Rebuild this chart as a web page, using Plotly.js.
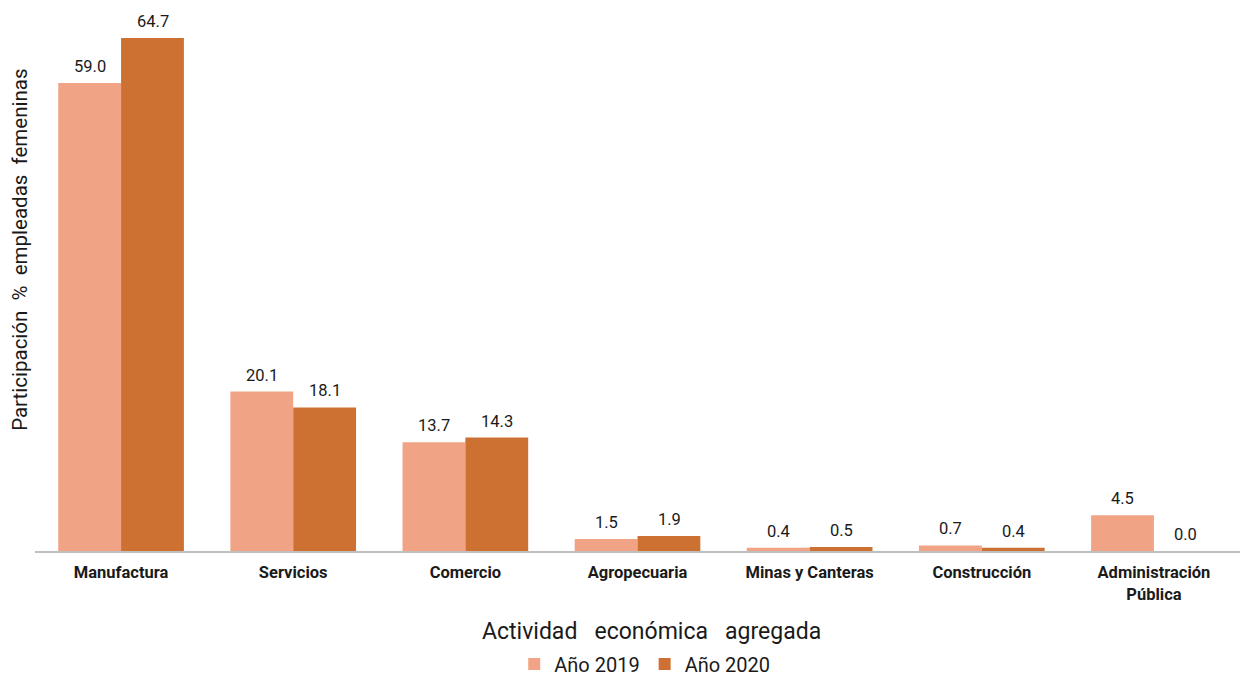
<!DOCTYPE html>
<html>
<head>
<meta charset="utf-8">
<script src="https://cdn.plot.ly/plotly-3.0.1.min.js"></script>
<style>html,body{margin:0;padding:0;background:#fff;}#chart{width:1241px;height:679px;}</style>
</head>
<body>
<div id="chart"></div>
<script>
const categories = ["Manufactura", "Servicios", "Comercio", "Agropecuaria", "Minas y Canteras", "Construcción", "Administración<br>Pública"];
const values2019 = [59.0, 20.1, 13.7, 1.5, 0.4, 0.7, 4.5];
const values2020 = [64.7, 18.1, 14.3, 1.9, 0.5, 0.4, 0.0];
const seriesNames = ["Año 2019", "Año 2020"];
const xTitle = "Actividad\u00a0\u00a0 económica\u00a0\u00a0 agregada";
const yTitle = "Participación\u00a0 %\u00a0 empleadas\u00a0 femeninas";

const FONT = "Roboto, 'Liberation Sans', Arial, sans-serif";
const TXT = "#1a1a1a";

const traces = [
  {type: "bar", name: seriesNames[0], x: categories, y: values2019, marker: {color: "#F1A386"}, hoverinfo: "skip"},
  {type: "bar", name: seriesNames[1], x: categories, y: values2020, marker: {color: "#CD7133"}, hoverinfo: "skip"}
];

// value labels as annotations anchored to each bar (data coordinates)
const valueAnnotations = [];
[values2019, values2020].forEach((vals, si) => {
  vals.forEach((v, i) => {
    valueAnnotations.push({
      x: categories[i], y: v, xref: "x", yref: "y",
      xshift: si === 0 ? -31.5 : 31.5, yshift: 5,
      text: v.toFixed(1), showarrow: false,
      xanchor: "center", yanchor: "bottom",
      font: {family: FONT, size: 16.5, color: TXT}
    });
  });
});

const layout = {
  width: 1241, height: 679,
  margin: {l: 35, r: 1, t: 20, b: 128},
  paper_bgcolor: "#fff", plot_bgcolor: "#fff",
  font: {family: FONT, color: TXT},
  barmode: "group", bargap: 0.27, bargroupgap: 0,
  showlegend: true,
  legend: {orientation: "h", x: 0.506, xanchor: "center", xref: "paper",
           yref: "container", y: 0.022, yanchor: "middle",
           font: {family: FONT, size: 20, color: TXT}, traceorder: "normal",
           itemwidth: 30, bgcolor: "rgba(0,0,0,0)"},
  xaxis: {
    showline: true, linecolor: "#bfbfbf", linewidth: 1.5,
    ticks: "", showgrid: false, zeroline: false,
    ticklabelstandoff: 6,
    tickfont: {family: FONT, size: 16.5, color: TXT, weight: "bold"},
    automargin: false
  },
  yaxis: {
    range: [0, 66.96], showticklabels: false, showgrid: false, zeroline: false,
    showline: false, ticks: "", fixedrange: true, automargin: false
  },
  annotations: valueAnnotations.concat([
    {
      text: yTitle,
      xref: "paper", yref: "paper", x: -0.0125, y: 0.567,
      xanchor: "center", yanchor: "middle", textangle: -90, showarrow: false,
      font: {family: FONT, size: 20.5, color: TXT}
    },
    {
      text: xTitle,
      xref: "paper", yref: "paper", x: 0.512, y: -0.1525,
      xanchor: "center", yanchor: "middle", showarrow: false,
      font: {family: FONT, size: 23, color: TXT}
    }
  ])
};

Plotly.newPlot("chart", traces, layout, {displayModeBar: false, staticPlot: true});
</script>
</body>
</html>
